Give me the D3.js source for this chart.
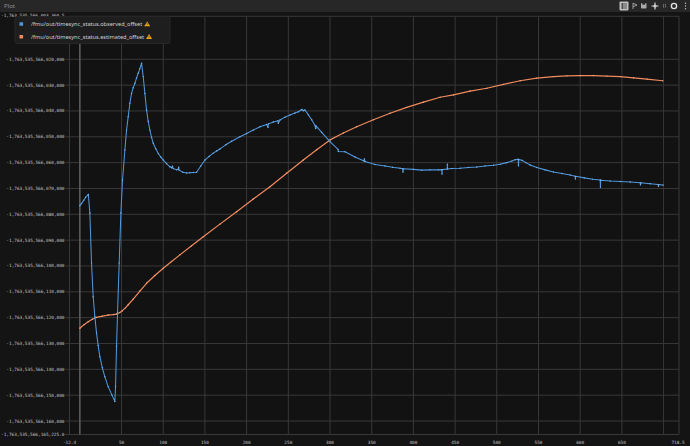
<!DOCTYPE html>
<html><head><meta charset="utf-8">
<script src="https://cdn.jsdelivr.net/npm/d3@7"></script>
<style>body{margin:0;background:#141414;overflow:hidden}svg{display:block}</style>
</head><body>
<svg id="c" width="690" height="446"></svg>
<script>
// ---------- data ----------
const yBase = -1763535566000000;            // values = yBase - offset*1000
const xDomain = [-12.4, 718.5];
const yDomainOffsets = [165.225, 3.3605];   // bottom, top (thousands below base)
const xTicks = [50, 100, 150, 200, 250, 300, 350, 400, 450, 500, 550, 600, 650];
const xGridExtra = [700];
const yTickOffsets = [20, 30, 40, 50, 60, 70, 80, 90, 100, 110, 120, 130, 140, 150, 160];
const seriesNames = ["/fmu/out/timesync_status.observed_offset", "/fmu/out/timesync_status.estimated_offset"];

const obsX = [0, 2, 4.8, 7, 10.2, 12, 14, 16, 18, 20, 22, 24, 27, 30, 34, 38.4, 42, 42.8, 44, 45.2, 47.2, 49.2, 51.2, 54, 56, 58, 60, 62, 64, 66, 68, 70, 72, 74, 76, 78, 80, 82, 84, 86, 88, 91, 94, 97, 100, 104, 108, 110, 111, 112, 116, 118, 118.5, 119, 123.6, 128, 132, 136, 140, 145, 150, 155, 160, 164, 168, 175, 182, 192, 200, 208, 216, 224, 225.6, 226, 232, 237.6, 238, 240, 246, 252, 258, 262, 265, 266.4, 268, 270, 274, 278, 282, 282.8, 283.5, 290, 300, 309.6, 310, 318, 330, 340.8, 341.2, 342, 354, 366, 375, 384, 387.2, 387.5, 388, 400, 410, 420, 430, 434, 434.3, 434.6, 440.4, 440.7, 441, 446, 456, 466, 476, 486, 496, 504, 512, 518, 522, 525.6, 526, 526.4, 530, 535, 540, 548, 558, 568, 578, 588, 594, 594.3, 594.6, 605, 615, 624, 624.3, 624.6, 636, 648, 660, 672, 672.3, 672.6, 684, 693.6, 693.9, 694.2, 699.6];
const obsOff = [76.7, 75.8, 74.5, 73.4, 72.3, 79.5, 98.8, 111.9, 119.6, 125.9, 130.8, 135.1, 139.4, 142.9, 146.7, 149.9, 152.5, 146.7, 131.2, 118.2, 98.8, 79.5, 66.7, 55.1, 47.4, 42.2, 37.0, 33.2, 31.0, 29.3, 27.2, 25.4, 23.6, 21.5, 26.7, 33.2, 39.6, 44.0, 47.4, 50.2, 52.5, 54.6, 56.4, 57.8, 59.0, 60.4, 61.6, 62.0, 61.4, 62.3, 62.8, 62.5, 61.8, 62.9, 63.7, 64.0, 63.9, 63.8, 63.7, 61.3, 59.0, 57.6, 56.3, 55.5, 54.7, 53.1, 51.7, 50.0, 48.7, 47.4, 46.1, 45.2, 46.3, 45.0, 44.3, 43.8, 44.8, 43.5, 42.4, 41.6, 40.8, 40.3, 39.7, 39.4, 39.9, 39.6, 41.5, 43.4, 45.6, 46.8, 45.9, 48.3, 51.9, 54.9, 55.7, 55.8, 57.8, 59.4, 58.6, 59.6, 60.7, 61.3, 61.8, 62.2, 62.4, 63.6, 62.4, 62.6, 62.9, 62.8, 62.8, 62.7, 64.4, 62.7, 62.5, 60.6, 62.5, 62.3, 62.2, 61.9, 61.7, 61.3, 61.0, 60.6, 60.0, 59.4, 58.9, 58.7, 61.2, 58.8, 59.1, 60.0, 60.9, 61.9, 62.8, 63.6, 64.2, 64.8, 65.3, 66.3, 65.3, 65.9, 66.4, 66.7, 69.5, 66.8, 67.1, 67.3, 67.5, 67.8, 68.6, 67.8, 68.2, 68.5, 69.2, 68.5, 68.7];

const estX = [0, 5, 10, 15, 20, 27, 34, 40, 44, 48, 51, 54, 58, 64, 72, 80, 90, 100, 110, 120, 134, 148, 168, 188, 208, 228, 248, 268, 284, 300, 316, 332, 352, 372, 392, 412, 432, 448, 468, 488, 508, 528, 548, 568, 584, 600, 616, 632, 648, 664, 680, 699];
const estOff = [124.1, 122.7, 121.6, 120.6, 119.9, 119.4, 119.0, 118.8, 118.6, 118.0, 117.3, 116.4, 115.0, 112.8, 109.7, 106.7, 103.7, 100.9, 98.3, 95.7, 92.2, 88.7, 83.8, 79.0, 74.1, 69.3, 64.1, 59.0, 55.0, 51.2, 48.5, 46.1, 43.4, 40.9, 38.6, 36.6, 34.7, 33.8, 32.3, 31.2, 29.7, 28.3, 27.3, 26.7, 26.4, 26.3, 26.3, 26.5, 26.7, 27.2, 27.7, 28.3];

// ---------- drawing ----------
const toVal = o => yBase - Math.round(o * 1000 * 10) / 10;
const W = 690, H = 446;
const plot = {l: 69.5, r: 679, t: 16.3, b: 434.5};
const svg = d3.select("#c");
const loc = d3.formatLocale({decimal: ".", thousands: ",", grouping: [3], currency: ["", ""], minus: "-"});
const fmtInt = loc.format(",.0f");
const fmt1 = loc.format(",.1f");

const x = d3.scaleLinear().domain(xDomain).range([plot.l, plot.r]);
const y = d3.scaleLinear().domain(yDomainOffsets.map(toVal)).range([plot.b, plot.t]);

svg.append("rect").attr("width", W).attr("height", H).attr("fill", "#141414");
svg.append("rect").attr("x", plot.l).attr("y", plot.t).attr("width", plot.r - plot.l).attr("height", plot.b - plot.t).attr("fill", "#121212");

// grid
const grid = svg.append("g").attr("stroke", "#383838").attr("stroke-width", 1);
xTicks.concat(xGridExtra).forEach(t => grid.append("line").attr("x1", x(t)).attr("x2", x(t)).attr("y1", plot.t).attr("y2", plot.b));
yTickOffsets.forEach(t => grid.append("line").attr("y1", y(toVal(t))).attr("y2", y(toVal(t))).attr("x1", plot.l - 4).attr("x2", plot.r));
// borders
grid.append("line").attr("x1", plot.l).attr("x2", plot.l).attr("y1", plot.t).attr("y2", plot.b);
grid.append("line").attr("x1", plot.r).attr("x2", plot.r).attr("y1", plot.t).attr("y2", plot.b);
grid.append("line").attr("x1", plot.l).attr("x2", plot.r).attr("y1", plot.t).attr("y2", plot.t);
grid.append("line").attr("x1", plot.l - 4).attr("x2", plot.r).attr("y1", plot.b).attr("y2", plot.b);
svg.append("line").attr("x1", x(0)).attr("x2", x(0)).attr("y1", plot.t).attr("y2", plot.b).attr("stroke", "#5c5c5c").attr("stroke-width", 1.6);

// axis labels
const mono = "'DejaVu Sans Mono', monospace";
const lab = svg.append("g").attr("font-family", mono).attr("font-size", 4.4).attr("fill", "#c4c4c4");
yTickOffsets.forEach(t => lab.append("text").attr("x", 64.5).attr("y", y(toVal(t)) + 1.5).attr("text-anchor", "end").text(fmtInt(toVal(t))));
lab.append("text").attr("x", 1).attr("y", plot.t + 0.9).text(fmt1(yBase - yDomainOffsets[1] * 1000));
lab.append("text").attr("x", 1).attr("y", plot.b + 1.6).text(fmt1(yBase - yDomainOffsets[0] * 1000));
xTicks.forEach(t => lab.append("text").attr("x", x(t)).attr("y", 443.5).attr("text-anchor", "middle").text(t));
lab.append("text").attr("x", x(xDomain[0])).attr("y", 443.5).attr("text-anchor", "middle").text(xDomain[0]);
lab.append("text").attr("x", x(xDomain[1]) - 1).attr("y", 443.5).attr("text-anchor", "middle").text(xDomain[1]);

// series
svg.append("clipPath").attr("id", "clip").append("rect").attr("x", plot.l).attr("y", plot.t).attr("width", plot.r - plot.l).attr("height", plot.b - plot.t);
const colors = ["#4f97dd", "#f08a5c"];
const series = [
  obsX.map((v, i) => [v, toVal(obsOff[i])]),
  estX.map((v, i) => [v, toVal(estOff[i])])
];
const line = d3.line().x(d => x(d[0])).y(d => y(d[1]));
const sg = svg.append("g").attr("clip-path", "url(#clip)");
[1, 0].forEach(k => {
  sg.append("path").datum(series[k]).attr("d", line).attr("fill", "none").attr("stroke", colors[k]).attr("stroke-width", k === 0 ? 1.05 : 1.2).attr("stroke-linejoin", "round");
  sg.append("g").selectAll("circle").data(series[k]).join("circle")
    .attr("cx", d => x(d[0])).attr("cy", d => y(d[1])).attr("r", 0.7).attr("fill", k === 0 ? "#6fb0ee" : "#f6a07a");
});

// title bar
svg.append("rect").attr("x", 0).attr("y", 0).attr("width", W).attr("height", 12).attr("fill", "#272727");
svg.append("text").attr("x", 4).attr("y", 7.8).attr("font-family", "'Noto Sans', sans-serif").attr("font-size", 6).attr("fill", "#8c8c8c").text("Plot");
// toolbar icons
const ic = svg.append("g");
ic.append("rect").attr("x", 619.5).attr("y", 1.5).attr("width", 9).attr("height", 9).attr("rx", 1).attr("fill", "#bfbfbf");
[4, 6, 8].forEach(yy => ic.append("line").attr("x1", 621).attr("x2", 627).attr("y1", yy).attr("y2", yy).attr("stroke", "#3a3a3a").attr("stroke-width", 0.8));
ic.append("line").attr("x1", 622.5).attr("x2", 622.5).attr("y1", 3).attr("y2", 9).attr("stroke", "#3a3a3a").attr("stroke-width", 0.8);
ic.append("path").attr("d", "M633,3 L633,9 M633,3.2 L637,5 L633,6.8").attr("stroke", "#a8a8a8").attr("stroke-width", 0.9).attr("fill", "none");
ic.append("rect").attr("x", 641).attr("y", 3).attr("width", 5.5).attr("height", 5.5).attr("rx", 0.8).attr("fill", "#a8a8a8");
ic.append("rect").attr("x", 642.3).attr("y", 3).attr("width", 3).attr("height", 1.6).attr("fill", "#272727");
ic.append("path").attr("d", "M655,2.5 L655,9.5 M651.5,6 L658.5,6").attr("stroke", "#d0d0d0").attr("stroke-width", 1.2);
ic.append("circle").attr("cx", 655).attr("cy", 6).attr("r", 1.6).attr("fill", "#d0d0d0");
[[663.5, 4.8], [665.5, 4.8], [663.5, 6.8], [665.5, 6.8]].forEach(p => ic.append("circle").attr("cx", p[0]).attr("cy", p[1]).attr("r", 0.6).attr("fill", "#a8a8a8"));
ic.append("circle").attr("cx", 674).attr("cy", 6).attr("r", 2.6).attr("fill", "none").attr("stroke", "#e0e0e0").attr("stroke-width", 1.4);
[3.2, 6, 8.8].forEach(yy => ic.append("circle").attr("cx", 685.5).attr("cy", yy).attr("r", 0.7).attr("fill", "#c0c0c0"));

// legend
const lg = svg.append("g");
lg.append("rect").attr("x", 15).attr("y", 16.5).attr("width", 155).attr("height", 27).attr("rx", 2).attr("fill", "#1e1e1e").attr("stroke", "#262626");
seriesNames.forEach((n, i) => {
  const cy = 24 + i * 12.7;
  lg.append("rect").attr("x", 19.5).attr("y", cy - 1.8).attr("width", 3.6).attr("height", 3.6).attr("rx", 0.6).attr("fill", colors[i]);
  const t = lg.append("text").attr("x", 31).attr("y", cy + 1.9).attr("font-family", "'Noto Sans', sans-serif").attr("font-size", 5.6).attr("fill", "#cfcfcf").text(n);
  const tw = t.node().getComputedTextLength();
  const tx = 31 + tw + 5;
  lg.append("path").attr("d", `M${tx},${cy - 2.6} L${tx + 3},${cy + 2.3} L${tx - 3},${cy + 2.3} Z`).attr("fill", "#e9a614");
  lg.append("line").attr("x1", tx).attr("x2", tx).attr("y1", cy - 0.9).attr("y2", cy + 0.8).attr("stroke", "#222").attr("stroke-width", 0.7);
});
</script>
</body></html>
